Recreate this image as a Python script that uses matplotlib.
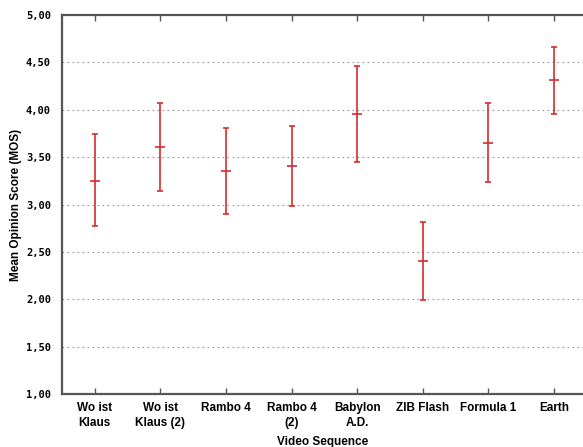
import numpy as np
import matplotlib
matplotlib.use('Agg')
import matplotlib.pyplot as plt

labels = ['Wo ist\nKlaus', 'Wo ist\nKlaus (2)', 'Rambo 4', 'Rambo 4\n(2)',
          'Babylon\nA.D.', 'ZIB Flash', 'Formula 1', 'Earth']
mos = [3.25, 3.61, 3.35, 3.41, 3.96, 2.40, 3.65, 4.31]
upper = [3.74, 4.07, 3.81, 3.83, 4.46, 2.82, 4.07, 4.66]
lower = [2.77, 3.14, 2.90, 2.98, 3.45, 1.99, 3.24, 3.96]

yticks = [1.0, 1.5, 2.0, 2.5, 3.0, 3.5, 4.0, 4.5, 5.0]

red = '#d42c2c'
spine = '#555555'

x = np.arange(1, len(labels) + 1)
mos = np.array(mos)
err = [mos - np.array(lower), np.array(upper) - mos]

fig = plt.figure(figsize=(5.83, 4.47), dpi=100)
ax = fig.add_axes([62/583, 53/447, 521/583, 379/447])

ax.errorbar(x, mos, yerr=err, fmt='_', color=red, ecolor=red,
            elinewidth=1.2, capsize=2.3, capthick=1.2, markersize=7, mew=1.2)

ax.set_xlim(0.5, 0.5 + 521/65.6)
ax.set_ylim(1.0, 5.0)
ax.set_yticks(yticks)
ax.set_xticks(x)
ax.set_xticklabels(labels, fontfamily='Liberation Sans', fontweight='bold',
                   fontsize=8.5, linespacing=1.35)
ax.set_yticklabels([('%.2f' % v).replace('.', ',') for v in yticks],
                   fontfamily='DejaVu Sans Mono', fontweight='bold', fontsize=7.5)

ax.tick_params(axis='y', length=0, pad=8)
ax.tick_params(axis='x', direction='in', length=4, width=1, color=spine,
               top=True, pad=6)

for yv in yticks[1:-1]:
    ax.axhline(yv, color='#999999', linestyle=(0, (1.5, 3)), linewidth=0.8, zorder=0)

ax.spines['right'].set_visible(False)
for s in ['left', 'top', 'bottom']:
    ax.spines[s].set_color(spine)
    ax.spines[s].set_linewidth(1.6)

ax.set_ylabel('Mean Opinion Score (MOS)', fontfamily='Liberation Sans',
              fontweight='bold', fontsize=8.5, labelpad=3)
ax.set_xlabel('Video Sequence', fontfamily='Liberation Sans',
              fontweight='bold', fontsize=8.5, labelpad=5)

plt.savefig('out.png', dpi=100)
plt.close()
